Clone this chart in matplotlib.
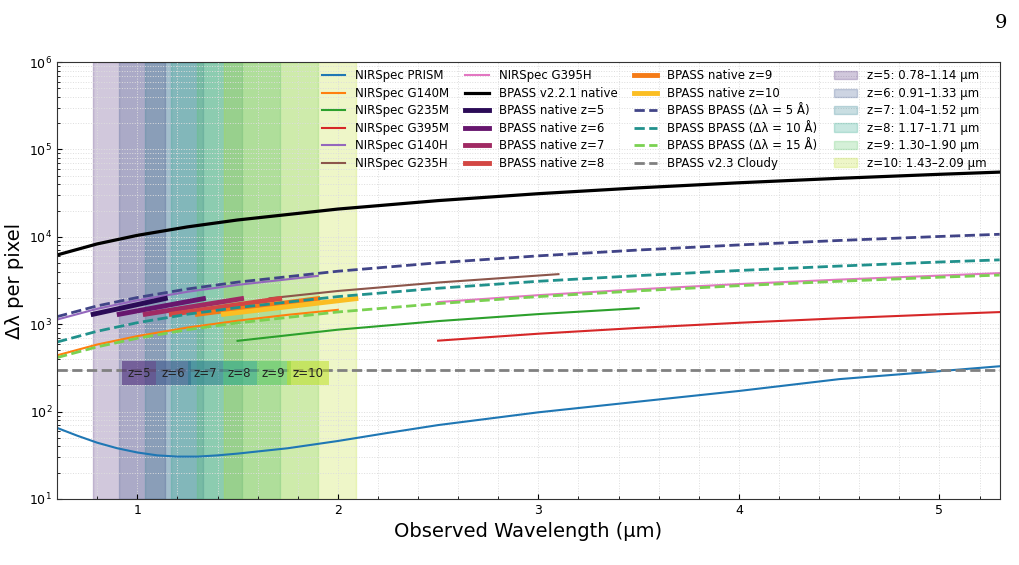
import numpy as np
import matplotlib
matplotlib.use('Agg')
import matplotlib.pyplot as plt
from matplotlib.ticker import MultipleLocator

# Valores
wl = [0.6, 0.8, 1.0, 1.25, 1.5, 2.0, 2.5, 3.0, 3.5, 4.0, 4.5, 5.0, 5.3]
bpass_221 = [6200, 8300, 10400, 13000, 15600, 20800, 26000, 31200, 36400, 41600, 46800, 52000, 55100]
bpass_5A = [1220, 1620, 2020, 2530, 3030, 4040, 5050, 6060, 7070, 8080, 9090, 10100, 10700]
bpass_10A = [625, 830, 1040, 1300, 1550, 2070, 2580, 3100, 3600, 4120, 4630, 5150, 5450]
bpass_15A = [415, 550, 690, 865, 1035, 1380, 1720, 2070, 2410, 2760, 3100, 3450, 3650]
cloudy_x = [0.6, 5.3]
cloudy = [300, 300]

prism_x = [0.6, 0.7, 0.8, 0.9, 1.0, 1.1, 1.2, 1.3, 1.4, 1.5, 1.75, 2.0, 2.25, 2.5, 3.0, 3.5, 4.0, 4.5, 5.0, 5.3]
prism = [65, 53, 44, 38, 34, 31.5, 30.5, 30.5, 31.5, 33, 38, 46, 57, 70, 98, 130, 172, 235, 290, 330]
g140m_x = [0.6, 0.8, 1.0, 1.25, 1.5, 1.75, 2.0]
g140m = [440, 585, 730, 915, 1095, 1280, 1460]
g235m_x = [1.5, 2.0, 2.5, 3.0, 3.5]
g235m = [645, 865, 1085, 1305, 1525]
g395m_x = [2.5, 3.0, 3.5, 4.0, 4.5, 5.0, 5.3]
g395m = [648, 778, 908, 1038, 1168, 1298, 1376]
g140h_x = [0.6, 0.8, 1.0, 1.25, 1.5, 1.9]
g140h = [1130, 1500, 1880, 2350, 2820, 3570]
g235h_x = [1.66, 2.0, 2.5, 3.1]
g235h = [1980, 2400, 3000, 3740]
g395h_x = [2.5, 3.0, 3.5, 4.0, 4.5, 5.0, 5.3]
g395h = [1790, 2150, 2510, 2880, 3240, 3600, 3840]

redshifts = [5, 6, 7, 8, 9, 10]
z_lo = [0.78, 0.91, 1.04, 1.17, 1.30, 1.43]
z_hi = [1.14, 1.33, 1.52, 1.71, 1.90, 2.09]
native_lo = [1300, 1300, 1300, 1300, 1300, 1300]
native_hi = [1970, 1960, 1960, 1960, 1960, 1960]
label_x = [1.01, 1.18, 1.34, 1.51, 1.68, 1.85]

fig, ax = plt.subplots(figsize=(10.19, 5.65), dpi=100)
fig.subplots_adjust(left=0.056, right=0.981, bottom=0.117, top=0.890)

# Faixas de redshift
band_cores = plt.cm.viridis(np.linspace(0.1, 0.9, 6))
for z, lo, hi, c in zip(redshifts, z_lo, z_hi, band_cores):
    ax.axvspan(lo, hi, color=c, alpha=0.25, zorder=0,
               label=f'z={z}: {lo:.2f}\u2013{hi:.2f} \u00b5m')

# NIRSpec
ax.plot(prism_x, prism, color='tab:blue', lw=1.5, label='NIRSpec PRISM')
ax.plot(g140m_x, g140m, color='tab:orange', lw=1.5, label='NIRSpec G140M')
ax.plot(g235m_x, g235m, color='tab:green', lw=1.5, label='NIRSpec G235M')
ax.plot(g395m_x, g395m, color='tab:red', lw=1.5, label='NIRSpec G395M')
ax.plot(g140h_x, g140h, color='tab:purple', lw=1.5, label='NIRSpec G140H')
ax.plot(g235h_x, g235h, color='tab:brown', lw=1.5, label='NIRSpec G235H')
ax.plot(g395h_x, g395h, color='tab:pink', lw=1.5, label='NIRSpec G395H')

ax.plot(wl, bpass_221, color='black', lw=2.3, label='BPASS v2.2.1 native')

# BPASS nativo por redshift
nat_cores = plt.cm.inferno(np.linspace(0.15, 0.85, 6))
for z, lo, hi, ylo, yhi, c in zip(redshifts, z_lo, z_hi, native_lo, native_hi, nat_cores):
    ax.plot([lo, hi], [ylo, yhi], color=c, lw=3.5, label=f'BPASS native z={z}')

ax.plot(wl, bpass_5A, '--', color='#414487', lw=2, label='BPASS BPASS (\u0394\u03bb = 5 \u00c5)')
ax.plot(wl, bpass_10A, '--', color='#21918c', lw=2, label='BPASS BPASS (\u0394\u03bb = 10 \u00c5)')
ax.plot(wl, bpass_15A, '--', color='#7ad151', lw=2, label='BPASS BPASS (\u0394\u03bb = 15 \u00c5)')
ax.plot(cloudy_x, cloudy, '--', color='gray', lw=2, label='BPASS v2.3 Cloudy')

# Rótulos das faixas
for z, x, c in zip(redshifts, label_x, band_cores):
    ax.text(x, 275, f'z={z}', ha='center', va='center', fontsize=8.5, color='#222222',
            bbox=dict(boxstyle='square,pad=0.45', facecolor=c, alpha=0.55, edgecolor='none'))

ax.set_yscale('log')
ax.set_xlim(0.6, 5.3)
ax.set_ylim(10, 1e6)
ax.xaxis.set_minor_locator(MultipleLocator(0.2))
ax.tick_params(which='both', direction='in', labelsize=9)
ax.grid(which='both', ls=':', color='#dddddd', lw=0.7)
ax.set_axisbelow(True)
for s in ax.spines.values():
    s.set_color('#333333')

ax.set_xlabel('Observed Wavelength (\u00b5m)', fontsize=14)
ax.set_ylabel('\u0394\u03bb per pixel', fontsize=14)

# Ordem da legenda
h, l = ax.get_legend_handles_labels()
h = h[6:] + h[:6]
l = l[6:] + l[:6]
ax.legend(h, l, ncol=4, loc='upper right', fontsize=8.5, frameon=False,
          labelspacing=0.38, columnspacing=1.4, bbox_to_anchor=(0.997, 1.008))

fig.text(0.988, 0.975, '9', fontsize=14, family='DejaVu Serif', ha='right', va='top')

plt.savefig('out.png', dpi=100)
